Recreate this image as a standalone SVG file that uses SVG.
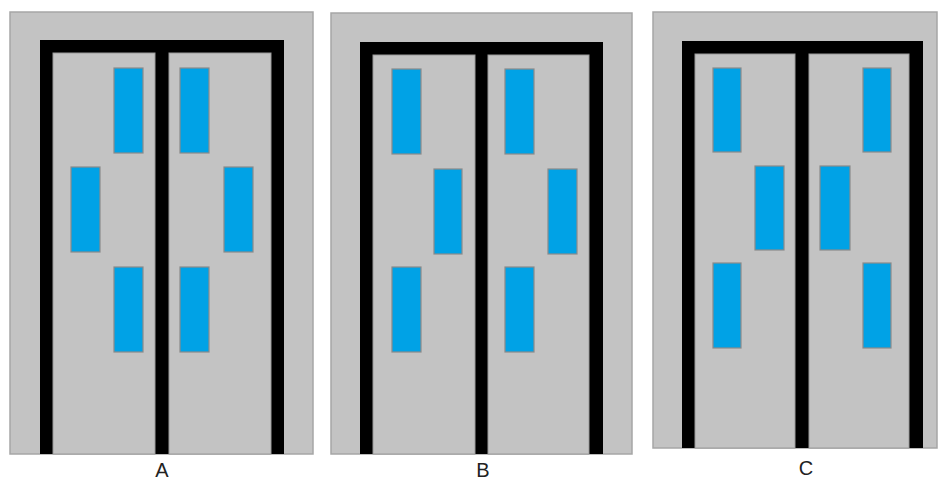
<svg xmlns="http://www.w3.org/2000/svg" width="938" height="481" viewBox="0 0 938 481">
<style>
.wall{fill:#c3c3c3;stroke:#a6a6a6;stroke-width:1.5}
.frame{fill:#000}
.door{fill:#c3c3c3;stroke:#9a9a9a;stroke-width:1}
.win{fill:#00a2e6;stroke:#8a8a8a;stroke-width:1.2}
.lbl{font-family:"Liberation Sans",Arial,sans-serif;font-size:20px;fill:#222;text-anchor:middle}
</style>
<rect width="938" height="481" fill="#fff"/>
<g id="panelA">
<rect class="wall" x="10" y="12" width="303" height="442"/>
<rect class="frame" x="40" y="40" width="244" height="414"/>
<rect class="door" x="53" y="53" width="102" height="401"/>
<rect class="door" x="169" y="53" width="102" height="401"/>
<rect class="win" x="114" y="68" width="29" height="85"/>
<rect class="win" x="71" y="167" width="29" height="85"/>
<rect class="win" x="114" y="267" width="29" height="85"/>
<rect class="win" x="180" y="68" width="29" height="85"/>
<rect class="win" x="224" y="167" width="29" height="85"/>
<rect class="win" x="180" y="267" width="29" height="85"/>
<text class="lbl" x="162" y="477">A</text>
</g>
<g id="panelB">
<rect class="wall" x="331" y="13" width="301" height="441"/>
<rect class="frame" x="360" y="42" width="243" height="412"/>
<rect class="door" x="373" y="55" width="102" height="399"/>
<rect class="door" x="488" y="55" width="101" height="399"/>
<rect class="win" x="392" y="69" width="29" height="85"/>
<rect class="win" x="434" y="169" width="28" height="85"/>
<rect class="win" x="392" y="267" width="29" height="85"/>
<rect class="win" x="505" y="69" width="29" height="85"/>
<rect class="win" x="548" y="169" width="29" height="85"/>
<rect class="win" x="505" y="267" width="29" height="85"/>
<text class="lbl" x="483" y="477">B</text>
</g>
<g id="panelC">
<rect class="wall" x="653" y="12" width="284" height="436"/>
<rect class="frame" x="682" y="41" width="241" height="407"/>
<rect class="door" x="695" y="54" width="100" height="394"/>
<rect class="door" x="809" y="54" width="100" height="394"/>
<rect class="win" x="713" y="68" width="28" height="84"/>
<rect class="win" x="755" y="166" width="29" height="84"/>
<rect class="win" x="713" y="263" width="28" height="85"/>
<rect class="win" x="863" y="68" width="28" height="84"/>
<rect class="win" x="820" y="166" width="30" height="84"/>
<rect class="win" x="863" y="263" width="28" height="85"/>
<text class="lbl" x="806" y="475">C</text>
</g>
<g id="connectors"/>
</svg>
